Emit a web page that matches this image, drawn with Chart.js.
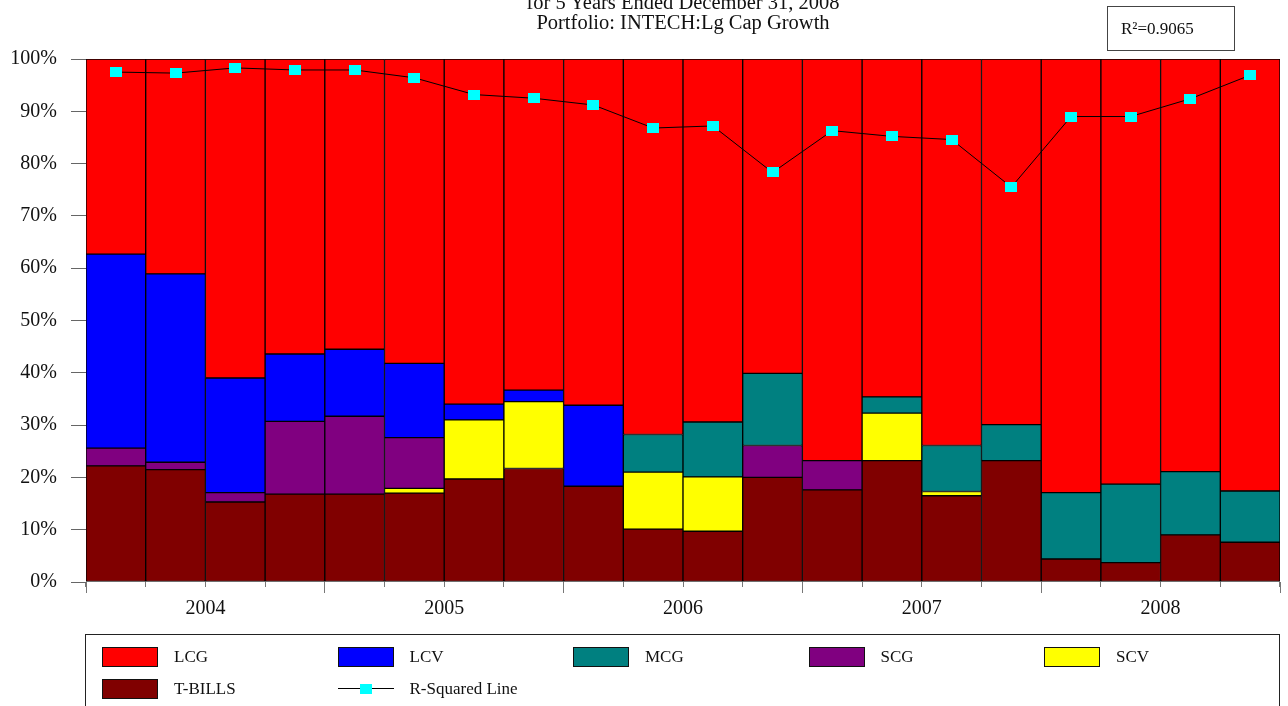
<!DOCTYPE html>
<html>
<head>
<meta charset="utf-8">
<script src="https://cdn.jsdelivr.net/npm/chart.js@4.4.1/dist/chart.umd.min.js"></script>
<style>
  html, body { margin: 0; padding: 0; background: #fff; }
  body { width: 1288px; height: 706px; position: relative; overflow: hidden; font-family: 'Liberation Serif', 'Times New Roman', serif; color: #111; }
  #wrap { position: absolute; left: 0; top: 0; width: 1288px; height: 706px; }
  #title { position: absolute; left: 483px; width: 400px; top: -8px; text-align: center; font-size: 20.5px; line-height: 20px; white-space: nowrap; }
  #r2box { position: absolute; left: 1107px; top: 6px; width: 126px; height: 43px; border: 1px solid #444; font-size: 17px; line-height: 43px; box-sizing: content-box; }
  #r2box span { position: absolute; left: 13px; top: 0; }
  #legend { position: absolute; left: 85px; top: 634px; width: 1193px; height: 90px; border: 1px solid #222; }
  .item { position: absolute; height: 20px; }
  .sw { position: absolute; left: 0; top: 0; width: 54px; height: 18px; border: 1px solid #111; }
  .ln { position: absolute; left: 0; top: 9px; width: 56px; height: 1px; background: #000; }
  .mk { position: absolute; left: 22px; top: 5px; width: 12px; height: 10px; background: #00FFFF; }
  .tx { position: absolute; left: 72px; top: 0; font-size: 17px; line-height: 20px; white-space: nowrap; }
</style>
</head>
<body>
<div id="wrap"><canvas id="c" width="1288" height="706"></canvas></div>
<div id="title">for 5 Years Ended December 31, 2008<br>Portfolio: INTECH:Lg Cap Growth</div>
<div id="r2box"><span>R²=0.9065</span></div>
<div id="legend"></div>
<script>
// ---- data ----
const quarterLabels = ['Q1 2004','Q2 2004','Q3 2004','Q4 2004','Q1 2005','Q2 2005','Q3 2005','Q4 2005',
  'Q1 2006','Q2 2006','Q3 2006','Q4 2006','Q1 2007','Q2 2007','Q3 2007','Q4 2007',
  'Q1 2008','Q2 2008','Q3 2008','Q4 2008'];
const yearLabels = ['2004','2005','2006','2007','2008'];
const yTicks = [0,10,20,30,40,50,60,70,80,90,100];

const tBills = [22.2, 21.5, 15.3, 16.8, 16.8, 17.0, 19.7, 21.7, 18.3, 10.1, 9.7, 20.0, 17.6, 23.2, 16.5, 23.2, 4.4, 3.7, 9.0, 7.6];
const scv    = [null, null, null, null, null, 0.9, 11.3, 12.8, null, 10.9, 10.4, null, null, 9.1, 0.8, null, null, null, null, null];
const scg    = [3.4, 1.4, 1.8, 13.9, 14.9, 9.7, null, null, null, null, null, 6.1, 5.6, null, null, null, null, null, null, null];
const mcg    = [null, null, null, null, null, null, null, null, null, 7.2, 10.5, 13.8, null, 3.1, 8.8, 6.9, 12.7, 15.0, 12.1, 9.8];
const lcv    = [37.1, 36.0, 21.9, 12.9, 12.8, 14.2, 3.0, 2.2, 15.5, null, null, null, null, null, null, null, null, null, null, null];
const lcg    = [37.3, 41.1, 61.0, 56.4, 55.5, 58.2, 66.0, 63.3, 66.2, 71.8, 69.4, 60.1, 76.8, 64.6, 73.9, 69.9, 82.9, 81.3, 78.9, 82.6];
const rSquared = [97.5, 97.3, 98.3, 97.9, 97.9, 96.4, 93.2, 92.5, 91.2, 86.8, 87.2, 78.3, 86.3, 85.2, 84.6, 75.5, 89.0, 89.0, 92.4, 96.9];

const colors = { 'LCG': '#FF0000', 'LCV': '#0000FF', 'MCG': '#008080', 'SCG': '#800080', 'SCV': '#FFFF00', 'T-BILLS': '#800000' };
const legendOrder = ['LCG','LCV','MCG','SCG','SCV','T-BILLS','R-Squared Line'];

// ---- chart ----
Chart.defaults.font.family = "'Liberation Serif', 'Times New Roman', serif";
Chart.defaults.color = '#111';

const marker = document.createElement('canvas');
marker.width = 12; marker.height = 10;
(function(){ const g = marker.getContext('2d'); g.fillStyle = '#00FFFF'; g.fillRect(0,0,12,10); })();

function barSet(name, data) {
  return { type: 'bar', label: name, data: data, backgroundColor: colors[name], borderColor: '#000',
    borderWidth: 1, borderSkipped: false, yAxisID: 'y', order: 2, stack: 'mix' };
}

new Chart(document.getElementById('c'), {
  data: {
    labels: quarterLabels,
    datasets: [
      { type: 'line', label: 'R-Squared Line', data: rSquared, yAxisID: 'y2', order: 0,
        borderColor: '#000', borderWidth: 1, tension: 0, fill: false,
        pointStyle: marker, pointRadius: 6, pointHoverRadius: 6 },
      barSet('T-BILLS', tBills),
      barSet('SCV', scv),
      barSet('SCG', scg),
      barSet('MCG', mcg),
      barSet('LCV', lcv),
      barSet('LCG', lcg)
    ]
  },
  options: {
    responsive: false,
    animation: false,
    events: [],
    layout: { padding: { left: 0, top: 59, right: 8, bottom: 84 } },
    datasets: { bar: { categoryPercentage: 1, barPercentage: 1 } },
    plugins: { legend: { display: false }, tooltip: { enabled: false }, title: { display: false } },
    scales: {
      x: {
        type: 'category', position: 'bottom', stacked: true, weight: 0,
        ticks: { display: false },
        grid: { display: true, offset: true, drawOnChartArea: false, drawTicks: true, tickLength: 5, tickColor: '#777', tickWidth: 1 },
        border: { display: false },
        afterFit: (s) => { s.height = 0; }
      },
      xYear: {
        type: 'linear', axis: 'x', position: 'bottom', weight: 1, min: 0, max: 20,
        afterBuildTicks: (s) => { s.ticks = [0,2,4,6,8,10,12,14,16,18,20].map(v => ({ value: v })); },
        ticks: {
          autoSkip: false, maxRotation: 0, padding: 4, font: { size: 20 }, color: '#111',
          callback: (v) => (v % 4 === 2 ? yearLabels[(v - 2) / 4] : '')
        },
        grid: { display: true, drawOnChartArea: false, drawTicks: true, tickLength: 11,
          tickColor: (ctx) => (ctx.tick && ctx.tick.value % 4 === 0 ? '#777' : 'rgba(0,0,0,0)') },
        border: { display: false },
        afterFit: (s) => { s.height = 40; }
      },
      y: {
        type: 'linear', position: 'left', stacked: true, min: 0, max: 100,
        afterBuildTicks: (s) => { s.ticks = yTicks.map(v => ({ value: v })); },
        ticks: { padding: 14, font: { size: 20 }, color: '#111', callback: (v) => v + '%' },
        grid: { display: true, drawOnChartArea: false, drawTicks: true, tickLength: 15, tickColor: '#666' },
        border: { display: false },
        afterFit: (s) => { s.width = 86; }
      },
      y2: { type: 'linear', display: false, min: 0, max: 100 }
    }
  }
});

// ---- HTML legend built from the series names/colours ----
const legend = document.getElementById('legend');
legendOrder.forEach((name, i) => {
  const col = i % 5, row = Math.floor(i / 5);
  const it = document.createElement('div');
  it.className = 'item';
  it.style.left = (16 + col * 235.5) + 'px';
  it.style.top = (12 + row * 31.5) + 'px';
  if (colors[name]) {
    const sw = document.createElement('div'); sw.className = 'sw'; sw.style.background = colors[name]; it.appendChild(sw);
  } else {
    const ln = document.createElement('div'); ln.className = 'ln'; it.appendChild(ln);
    const mk = document.createElement('div'); mk.className = 'mk'; it.appendChild(mk);
  }
  const tx = document.createElement('div'); tx.className = 'tx'; tx.textContent = name; it.appendChild(tx);
  legend.appendChild(it);
});
</script>
</body>
</html>
